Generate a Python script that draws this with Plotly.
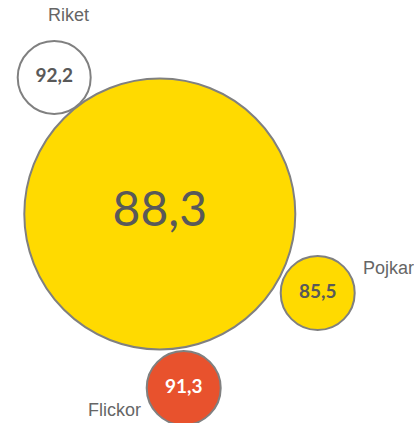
import plotly.graph_objects as go

# Data
groups = ["Riket", "Totalt", "Pojkar", "Flickor"]
values = [92.2, 88.3, 85.5, 91.3]
value_labels = ["92,2", "88,3", "85,5", "91,3"]
group_labels = ["Riket", "", "Pojkar", "Flickor"]

# Layout (pixel-like coordinates), sizes and styles
pos_x = [54.2, 159.8, 317.7, 183.7]
pos_y = [77.5, 214.0, 293.0, 388.0]
diam = [73, 271, 74, 74]
fills = ["#FFFFFF", "#FFDA00", "#FFDA00", "#E8522D"]
text_colors = ["#595959", "#595959", "#595959", "#FFFFFF"]
text_sizes = [19, 48, 19, 19]

fig = go.Figure()
fig.add_trace(go.Scatter(
    x=pos_x, y=pos_y, mode="markers+text",
    text=value_labels,
    textposition="middle center",
    textfont=dict(family="Lato", color=text_colors, size=text_sizes, weight=[700, 400, 700, 700]),
    marker=dict(size=diam, color=fills, line=dict(color="#808080", width=2), opacity=1),
    hoverinfo="skip", showlegend=False,
))

label_pos = [(68, 15, "center"), None, (361, 268, "left"), (86, 410, "left")]
for lbl, p in zip(group_labels, label_pos):
    if p is None:
        continue
    fig.add_annotation(x=p[0], y=p[1], text=lbl, showarrow=False,
                       xanchor=p[2], yanchor="middle",
                       font=dict(family="Liberation Sans", size=18, color="#666666"))

fig.update_layout(
    width=414, height=423,
    margin=dict(l=0, r=0, t=0, b=0),
    paper_bgcolor="white", plot_bgcolor="white",
    xaxis=dict(range=[0, 414], visible=False, fixedrange=True),
    yaxis=dict(range=[423, 0], visible=False, fixedrange=True),
)
fig.write_html("out.html",
               config={"displayModeBar": False},
               post_script="document.body.style.margin='0';document.body.style.overflow='hidden';")
